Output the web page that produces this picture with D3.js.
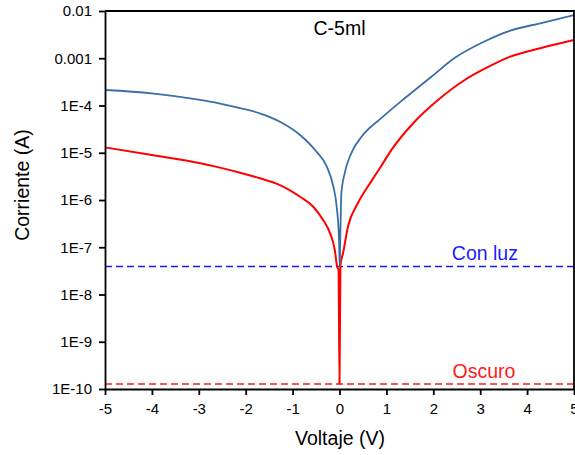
<!DOCTYPE html>
<meta charset="UTF-8">
<style>
  body { margin: 0; background: #fff; }
  svg { display: block; font-family: "Liberation Sans", Arial, sans-serif; }
  .axis path, .axis line { stroke: #000; stroke-width: 1.8px; }
  .axis text { font-size: 15px; fill: #000; }
</style>
<body>
<script src="https://cdn.jsdelivr.net/npm/d3@7"></script>
<script>
  // Con luz (light) curve, blue
  var voltageLight = [-5, -4, -2.97, -2.55, -2.12, -1.7, -1.27, -0.84, -0.49, -0.27, -0.13, -0.06, -0.01, 0.005,
    0.02, 0.04, 0.11, 0.25, 0.47, 0.89, 1.39, 1.96, 2.46, 3.1, 3.64, 4.28, 5];
  var currentLight = [2.13e-4, 1.81e-4, 1.31e-4, 1.1e-4, 8.8e-5, 6.84e-5, 4.54e-5, 2.38e-5, 1.05e-5, 5.07e-6, 1.91e-6, 7.21e-7, 1.42e-7, 3.89e-8,
    2.32e-7, 1.39e-6, 3.67e-6, 9.73e-6, 2.19e-5, 5.4e-5, 1.42e-4, 4.07e-4, 1.02e-3, 2.29e-3, 3.83e-3, 5.5e-3, 8.22e-3];

  // Oscuro (dark) curve, red
  var voltageDark = [-5, -4, -2.97, -2.55, -2.12, -1.7, -1.27, -0.84, -0.56, -0.35, -0.2, -0.1, -0.05, -0.02, 0,
    0.02, 0.075, 0.18, 0.39, 0.68, 0.89, 1.1, 1.6, 2.1, 2.67, 3.12, 3.64, 4.28, 5];
  var currentDark = [1.3e-5, 8.95e-6, 5.98e-6, 4.84e-6, 3.78e-6, 2.88e-6, 2.07e-6, 1.17e-6, 7.21e-7, 3.78e-7, 1.97e-7, 8.75e-8, 3.89e-8, 3.3e-8, 1.28e-10,
    4.2e-8, 7.45e-8, 2.72e-7, 8.51e-7, 2.51e-6, 5.25e-6, 1.12e-5, 4.54e-5, 1.31e-4, 3.47e-4, 6.17e-4, 1.08e-3, 1.63e-3, 2.43e-3];

  // reference levels
  var levelLight = 3.9e-8;
  var levelDark = 1.28e-10;

  var xTicks = [-5, -4, -3, -2, -1, 0, 1, 2, 3, 4, 5];
  var xTickLabels = ["-5", "-4", "-3", "-2", "-1", "0", "1", "2", "3", "4", "5"];
  var yTicks = [1e-10, 1e-9, 1e-8, 1e-7, 1e-6, 1e-5, 1e-4, 1e-3, 1e-2];
  var yTickLabels = ["1E-10", "1E-9", "1E-8", "1E-7", "1E-6", "1E-5", "1E-4", "0.001", "0.01"];

  var margin = {top: 11, right: 1, bottom: 66, left: 105},
    W = 575, H = 455,
    width = W - margin.left - margin.right,
    height = H - margin.top - margin.bottom;

  var svg = d3.select("body").append("svg")
    .attr("width", W)
    .attr("height", H);

  var g = svg.append("g")
    .attr("transform", "translate(" + margin.left + "," + margin.top + ")");

  var x = d3.scaleLinear().domain([-5, 5]).range([0, width]);
  var y = d3.scaleLog().domain([1e-10, 1e-2]).range([height, 0]);

  var line = d3.line()
    .x(function(d) { return x(d[0]); })
    .y(function(d) { return y(d[1]); })
    .curve(d3.curveMonotoneX);

  // dashed reference lines
  g.append("line")
    .attr("x1", 0).attr("x2", width)
    .attr("y1", y(levelLight)).attr("y2", y(levelLight))
    .attr("stroke", "#1a1aff").attr("stroke-width", 1.6)
    .attr("stroke-dasharray", "7,4");

  g.append("line")
    .attr("x1", 0).attr("x2", width)
    .attr("y1", y(levelDark)).attr("y2", y(levelDark))
    .attr("stroke", "#ff1a1a").attr("stroke-width", 1.6)
    .attr("stroke-dasharray", "7,4");

  // curves
  g.append("path")
    .datum(d3.zip(voltageDark, currentDark))
    .attr("fill", "none")
    .attr("stroke", "#ff0000")
    .attr("stroke-width", 2)
    .attr("d", line);

  g.append("path")
    .datum(d3.zip(voltageLight, currentLight))
    .attr("fill", "none")
    .attr("stroke", "#3b6ea8")
    .attr("stroke-width", 1.8)
    .attr("d", line);

  // frame (top and right)
  g.append("path")
    .attr("d", "M0,0H" + width + "V" + height)
    .attr("fill", "none")
    .attr("stroke", "#000")
    .attr("stroke-width", 1.8);

  // axes
  g.append("g")
    .attr("class", "axis")
    .attr("transform", "translate(0," + height + ")")
    .call(d3.axisBottom(x).tickValues(xTicks).tickSize(6).tickPadding(8)
      .tickFormat(function(d, i) { return xTickLabels[i]; }).tickSizeOuter(0));

  g.append("g")
    .attr("class", "axis")
    .call(d3.axisLeft(y).tickValues(yTicks).tickSize(6).tickPadding(7)
      .tickFormat(function(d, i) { return yTickLabels[i]; }).tickSizeOuter(0));

  // labels
  g.append("text")
    .attr("x", x(0)).attr("y", 24)
    .attr("text-anchor", "middle")
    .attr("font-size", 19.5)
    .text("C-5ml");

  g.append("text")
    .attr("x", x(3.1)).attr("y", y(levelLight) - 7)
    .attr("text-anchor", "middle")
    .attr("font-size", 19.5)
    .attr("fill", "#1a1aff")
    .text("Con luz");

  g.append("text")
    .attr("x", x(3.08)).attr("y", y(levelDark) - 6)
    .attr("text-anchor", "middle")
    .attr("font-size", 19.5)
    .attr("fill", "#ff1a1a")
    .text("Oscuro");

  svg.append("text")
    .attr("x", 340).attr("y", H - 10)
    .attr("text-anchor", "middle")
    .attr("font-size", 19.5)
    .text("Voltaje (V)");

  svg.append("text")
    .attr("transform", "translate(29,185) rotate(-90)")
    .attr("text-anchor", "middle")
    .attr("font-size", 19.5)
    .text("Corriente (A)");
</script>
</body>
